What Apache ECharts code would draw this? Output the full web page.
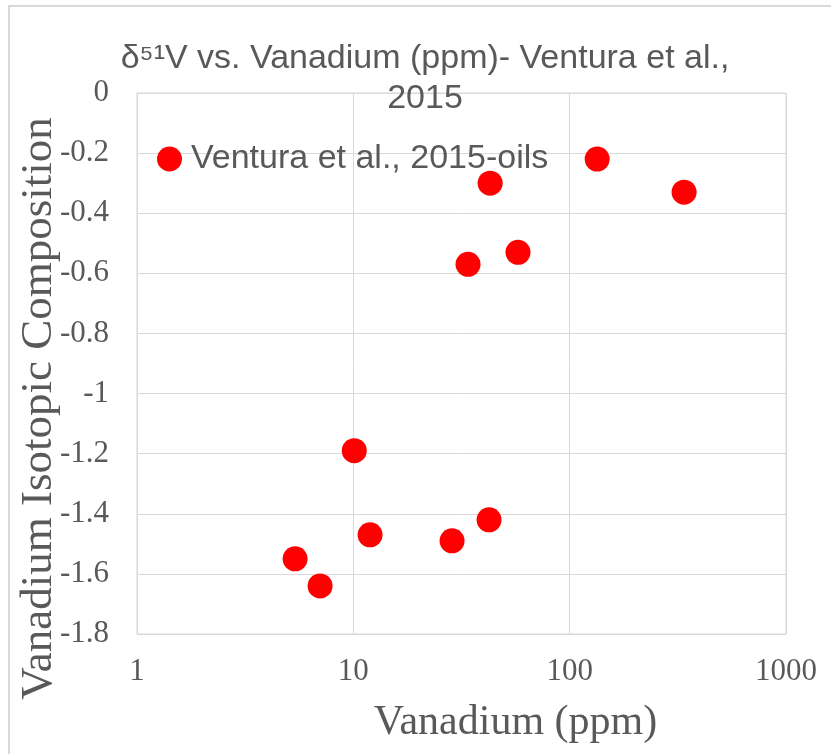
<!DOCTYPE html>
<html>
<head>
<meta charset="utf-8">
<script src="https://cdn.jsdelivr.net/npm/echarts@6/dist/echarts.min.js"></script>
<style>
html,body{margin:0;padding:0;background:#fff;}
#chart{width:831px;height:754px;}
</style>
</head>
<body>
<div id="chart"></div>
<script>
// Data
const seriesName = "Ventura et al., 2015-oils";
const vanadiumPpm = [134, 338, 42.9, 57.7, 33.9, 10.1, 11.95, 28.6, 42.4, 5.38, 7.02];
const delta51V    = [-0.22, -0.33, -0.30, -0.53, -0.57, -1.19, -1.47, -1.49, -1.42, -1.55, -1.64];
const xTicks = [1, 10, 100, 1000];
const yTicks = [0, -0.2, -0.4, -0.6, -0.8, -1, -1.2, -1.4, -1.6, -1.8];

const points = vanadiumPpm.map((v, i) => [v, delta51V[i]]);

const chart = echarts.init(document.getElementById('chart'));
const gridColor = '#d9d9d9';
const textGray = '#595959';
chart.setOption({
  animation: false,
  backgroundColor: '#ffffff',
  title: {
    text: 'δ⁵¹V vs. Vanadium (ppm)- Ventura et al.,\n2015',
    left: 425,
    textAlign: 'center',
    top: 39,
    padding: 0,
    textStyle: {
      fontFamily: 'Liberation Sans',
      fontWeight: 'normal',
      fontSize: 34,
      lineHeight: 40,
      color: textGray
    }
  },
  legend: {
    data: [seriesName],
    left: 157,
    top: 142,
    padding: 0,
    itemWidth: 25,
    itemHeight: 25,
    itemGap: 0,
    icon: 'circle',
    textStyle: {
      fontFamily: 'Liberation Sans',
      fontSize: 34,
      color: textGray,
      padding: [0, 0, 0, 4]
    }
  },
  graphic: [{
    type: 'rect',
    shape: { x: 9, y: 6, width: 900, height: 900 },
    style: { fill: 'none', stroke: gridColor, lineWidth: 2 },
    silent: true,
    z: -1
  }],
  grid: {
    left: 137, top: 93, width: 649, height: 541,
    show: true, borderColor: gridColor, borderWidth: 1, containLabel: false,
    outerBoundsMode: 'none'
  },
  xAxis: {
    type: 'log',
    logBase: 10,
    min: xTicks[0],
    max: xTicks[xTicks.length - 1],
    name: 'Vanadium (ppm)',
    nameLocation: 'middle',
    nameMoveOverlap: false,
    nameGap: 68,
    nameTextStyle: {
      fontFamily: 'Liberation Serif',
      fontSize: 42,
      color: textGray,
      padding: [0, 0, 0, 108]
    },
    axisLine: { show: true, lineStyle: { color: gridColor } },
    axisTick: { show: false },
    splitLine: { show: true, lineStyle: { color: gridColor, width: 1 } },
    minorTick: { show: false },
    axisLabel: {
      fontFamily: 'Liberation Serif',
      fontSize: 31,
      color: textGray,
      margin: 22,
      formatter: v => String(v)
    }
  },
  yAxis: {
    type: 'value',
    min: yTicks[yTicks.length - 1],
    max: yTicks[0],
    interval: 0.2,
    name: 'Vanadium Isotopic Composition',
    nameLocation: 'middle',
    nameRotate: 90,
    nameMoveOverlap: false,
    nameGap: 75,
    nameTextStyle: {
      fontFamily: 'Liberation Serif',
      fontSize: 45,
      color: textGray,
      padding: [0, 90, 0, 0]
    },
    axisLine: { show: true, lineStyle: { color: gridColor } },
    axisTick: { show: false },
    splitLine: { show: true, lineStyle: { color: gridColor, width: 1 } },
    axisLabel: {
      fontFamily: 'Liberation Serif',
      fontSize: 31,
      color: textGray,
      margin: 28,
      formatter: v => String(+(+v).toFixed(1))
    }
  },
  series: [{
    name: seriesName,
    type: 'scatter',
    data: points,
    symbol: 'circle',
    symbolSize: 25,
    itemStyle: { color: '#ff0000', opacity: 1 }
  }]
});
</script>
</body>
</html>
